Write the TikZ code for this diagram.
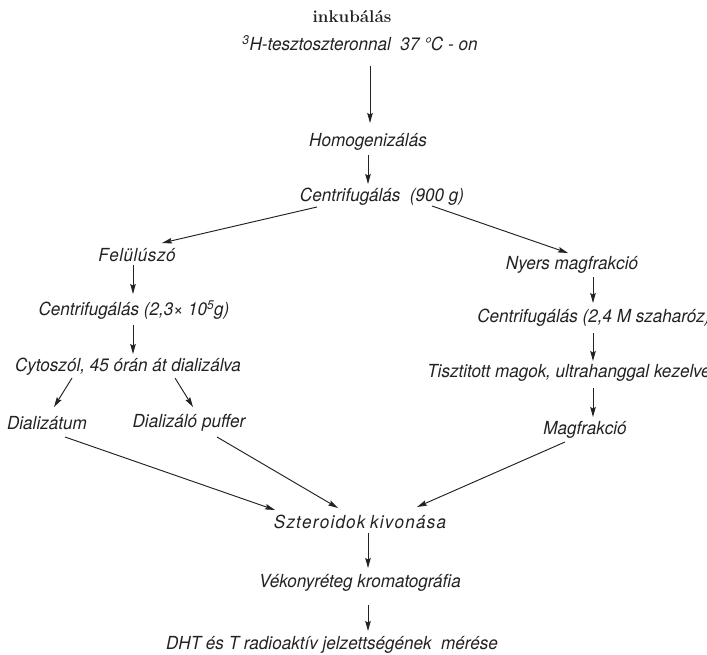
\documentclass[tikz,border=0pt]{standalone}
\usepackage{fontspec}
\setmainfont{TeX Gyre Heros}[FakeStretch=0.95]
\newfontfamily\titlefont{Latin Modern Roman}
\usetikzlibrary{arrows.meta}
\definecolor{ink}{HTML}{222222}
\newcommand{\sk}{\kern0.5pt}
\newcommand{\wk}{\kern1.2pt}
\begin{document}
\begin{tikzpicture}[x=1pt,y=-1pt,
  lbl/.style={inner sep=0pt, font=\fontsize{18}{21}\selectfont\itshape, text=ink},
  ttl/.style={inner sep=0pt, font=\fontsize{17}{20}\selectfont\titlefont\bfseries, text=ink},
  arr/.style={draw=ink, line width=0.95pt, -{Stealth[length=10pt,width=5.5pt,inset=1.5pt]}}]
\useasboundingbox (0,0) rectangle (707,655);
% nodes
\node[ttl] (title) at (352,17) {inkubálás};
\node[lbl] (h3) at (360,43) {\textsuperscript{3}H-tesztoszteronnal\ \ 37 °C - on};
\node[lbl] (homo) at (368,142) {Homogenizálás};
\node[lbl] (cent) at (382,197) {Centrifugálás\ \ (900 g)};
\node[lbl] (fel) at (137,255) {F\sk e\sk l\sk ü\sk l\sk ú\sk s\sk z\sk ó};
\node[lbl] (c2) at (134,310) {Centrifugálás (2,3× 10\textsuperscript{5}g)};
\node[lbl] (cyto) at (128,367) {Cytoszól, 45 órán át dializálva};
\node[lbl] (dializ) at (47,423) {Dializátum};
\node[lbl] (puffer) at (189,423) {Dializáló puffer};
\node[lbl] (nyers) at (572,265) {Nyers magfrakció};
\node[lbl] (c3) at (594,318) {Centrifugálás (2,4 M szaharóz)};
\node[lbl] (tiszt) at (569,373) {Tisztitott magok, ultrahanggal kezelve};
\node[lbl] (mag) at (585,430) {Magfrakció};
\node[lbl] (szter) at (360,522) {S\wk z\wk t\wk e\wk r\wk o\wk i\wk d\wk o\wk k\ k\wk i\wk v\wk o\wk n\wk á\wk s\wk a};
\node[lbl] (vek) at (360,583) {Vékonyréteg kromatográfia};
\node[lbl] (dht) at (332,645) {DHT és T radioaktív jelzettségének\ \ mérése};
% connectors
\draw[arr] ([shift={(10,23)}]h3.center) -- ([shift={(2,-19)}]homo.center);
\draw[arr] ([shift={(0,13)}]homo.center) -- ([shift={(-14,-13)}]cent.center);
\draw[arr] ([shift={(-65,10)}]cent.center) -- ([shift={(25,-12)}]fel.center);
\draw[arr] ([shift={(50,9)}]cent.center) -- ([shift={(-4,-12)}]nyers.center);
\draw[arr] ([shift={(-4,10)}]fel.center) -- ([shift={(-1,-16)}]c2.center);
\draw[arr] ([shift={(-1,15)}]c2.center) -- ([shift={(5,-13)}]cyto.center);
\draw[arr] ([shift={(-56,11)}]cyto.center) -- ([shift={(7,-16)}]dializ.center);
\draw[arr] ([shift={(47,11)}]cyto.center) -- ([shift={(4,-16)}]puffer.center);
\draw[arr] ([shift={(21,12)}]nyers.center) -- ([shift={(-1,-15)}]c3.center);
\draw[arr] ([shift={(-1,15)}]c3.center) -- ([shift={(24,-12)}]tiszt.center);
\draw[arr] ([shift={(24,15)}]tiszt.center) -- ([shift={(8,-13)}]mag.center);
\draw[arr] ([shift={(18,14)}]dializ.center) -- ([shift={(-85,-12)}]szter.center);
\draw[arr] ([shift={(28,14)}]puffer.center) -- ([shift={(-22,-14)}]szter.center);
\draw[arr] ([shift={(-20,12)}]mag.center) -- ([shift={(57,-15)}]szter.center);
\draw[arr] ([shift={(8,11)}]szter.center) -- ([shift={(8,-15)}]vek.center);
\draw[arr] ([shift={(8,22)}]vek.center) -- ([shift={(36,-14)}]dht.center);
\end{tikzpicture}
\end{document}
